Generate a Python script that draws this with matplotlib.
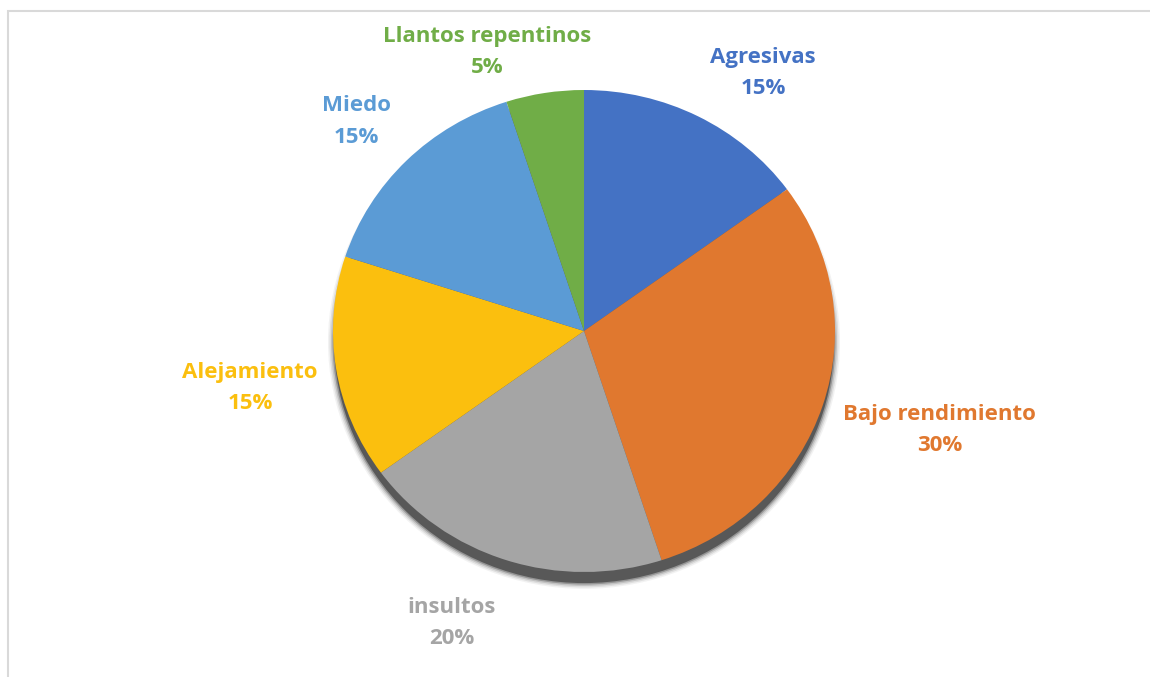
import matplotlib.pyplot as plt
from matplotlib.patches import Ellipse, Rectangle

categories = ['Agresivas', 'Bajo rendimiento', 'insultos', 'Alejamiento', 'Miedo', 'Llantos repentinos']
values = [15, 30, 20, 15, 15, 5]
colors = ['#4472C4', '#E0782F', '#A5A5A5', '#FBBF0E', '#5B9BD5', '#70AD47']

# label block centers, in pie radius units (x right, y up)
label_pos = [(0.713, 1.07), (1.418, -0.41), (-0.526, -1.212), (-1.331, -0.237), (-0.908, 0.87), (-0.386, 1.158)]

W, H = 1150, 677
cx, cy, rx, ry = 584, 331, 251, 241

fig = plt.figure(figsize=(W / 100, H / 100), dpi=100)
ax = fig.add_axes([0, 0, 1, 1])
ax.axis('off')

# soft shadow under the pie
for i, a in enumerate([0.06, 0.1, 0.16, 0.3, 0.6]):
    grow = 0.05 - i * 0.012
    ax.add_patch(Ellipse((0.0, -0.045), 2 + grow - 0.01, 2 + grow, color='#303030', alpha=a, lw=0, zorder=1))

wedges, _ = ax.pie(values, colors=colors, startangle=90, counterclock=False,
                   wedgeprops=dict(linewidth=0), radius=1, frame=False)
for w in wedges:
    w.set_zorder(2)
ax.set_xlim(-cx / rx, (W - cx) / rx)
ax.set_ylim((cy - H) / ry, cy / ry)
ax.set_aspect('auto')

total = sum(values)
for name, v, c, (lx, ly) in zip(categories, values, colors, label_pos):
    ax.text(lx, ly, f'{name}\n{round(100 * v / total)}%', color=c, ha='center', va='center',
            fontsize=16, fontweight='bold', family='Open Sans', linespacing=1.65)

fig.add_artist(Rectangle((8 / W, -0.05), 1.1, (H - 11) / H + 0.05, transform=fig.transFigure,
                         fill=False, edgecolor='#D9D9D9', linewidth=1.5))

plt.savefig('out.png', dpi=100)
